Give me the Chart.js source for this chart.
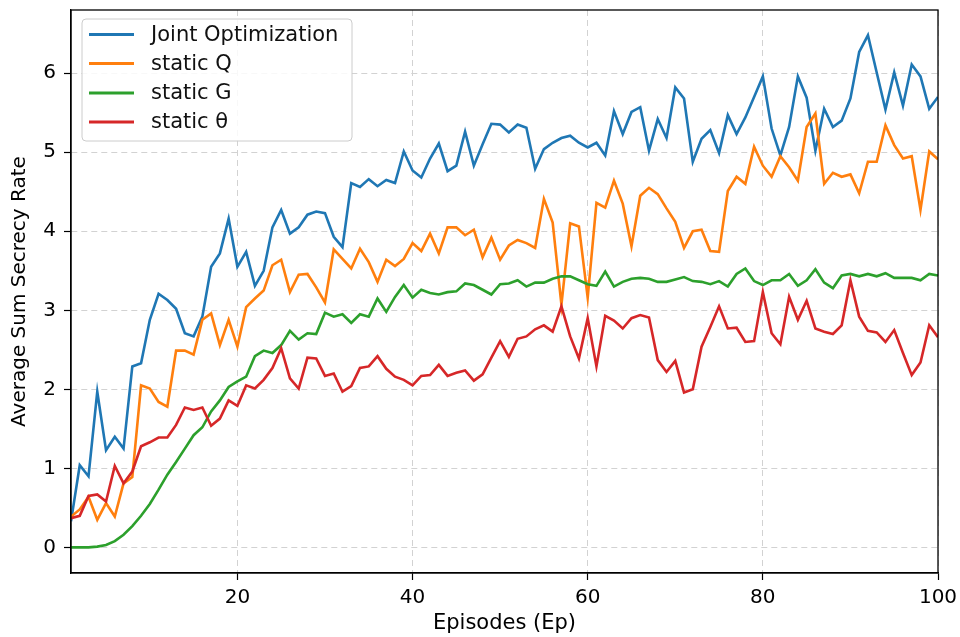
<!DOCTYPE html>
<html>
<head>
<meta charset="utf-8">
<script src="https://cdn.jsdelivr.net/npm/chart.js@4.4.1/dist/chart.umd.min.js"></script>
<style>
  html, body { margin: 0; padding: 0; background: #ffffff; }
  #wrap { width: 960px; height: 637px; position: relative; }
</style>
</head>
<body>
<div id="wrap"><canvas id="c" width="960" height="637"></canvas></div>
<script>
const episodes = Array.from({length: 100}, (_, i) => i + 1);
const xTicks = [20, 40, 60, 80, 100];
const yTicks = [0, 1, 2, 3, 4, 5, 6];
const seriesLabels = ["Joint Optimization", "static Q", "static G", "static \u03b8"];

const jointOptimization = [
  0.33, 1.04, 0.90, 1.97, 1.23, 1.40, 1.25, 2.29, 2.33, 2.88,
  3.21, 3.13, 3.02, 2.71, 2.67, 2.92, 3.55, 3.72, 4.16, 3.55,
  3.74, 3.31, 3.50, 4.05, 4.27, 3.97, 4.05, 4.21, 4.25, 4.23,
  3.93, 3.80, 4.61, 4.56, 4.66, 4.57, 4.65, 4.61, 5.01, 4.77,
  4.68, 4.92, 5.11, 4.76, 4.83, 5.26, 4.83, 5.10, 5.36, 5.35,
  5.25, 5.35, 5.31, 4.79, 5.04, 5.12, 5.18, 5.21, 5.12, 5.06,
  5.12, 4.96, 5.52, 5.23, 5.51, 5.57, 5.02, 5.42, 5.18, 5.82,
  5.68, 4.88, 5.17, 5.28, 4.99, 5.47, 5.23, 5.44, 5.70, 5.96,
  5.30, 4.96, 5.32, 5.96, 5.69, 5.02, 5.55, 5.32, 5.40, 5.68,
  6.27, 6.48, 6.01, 5.54, 6.01, 5.59, 6.11, 5.96, 5.55, 5.70
];
const staticQ = [
  0.39, 0.48, 0.64, 0.35, 0.56, 0.39, 0.81, 0.89, 2.05, 2.01,
  1.84, 1.78, 2.49, 2.49, 2.44, 2.88, 2.96, 2.56, 2.88, 2.54,
  3.04, 3.15, 3.25, 3.57, 3.64, 3.23, 3.45, 3.46, 3.29, 3.10,
  3.77, 3.65, 3.53, 3.78, 3.61, 3.36, 3.64, 3.56, 3.65, 3.85,
  3.75, 3.97, 3.72, 4.05, 4.05, 3.95, 4.02, 3.67, 3.92, 3.64,
  3.82, 3.89, 3.85, 3.79, 4.41, 4.11, 3.07, 4.10, 4.06, 3.16,
  4.36, 4.30, 4.64, 4.35, 3.81, 4.45, 4.55, 4.47, 4.29, 4.12,
  3.79, 4.00, 4.02, 3.75, 3.74, 4.51, 4.69, 4.60, 5.07, 4.83,
  4.69, 4.95, 4.81, 4.64, 5.32, 5.49, 4.60, 4.74, 4.69, 4.72,
  4.48, 4.88, 4.88, 5.34, 5.09, 4.92, 4.95, 4.27, 5.01, 4.91
];
const staticG = [
  0.00, 0.00, 0.00, 0.01, 0.03, 0.08, 0.16, 0.27, 0.40, 0.55,
  0.73, 0.92, 1.08, 1.25, 1.42, 1.52, 1.72, 1.86, 2.03, 2.10,
  2.16, 2.42, 2.49, 2.46, 2.56, 2.74, 2.63, 2.71, 2.70, 2.97,
  2.92, 2.95, 2.84, 2.95, 2.92, 3.15, 2.98, 3.17, 3.32, 3.16,
  3.26, 3.22, 3.20, 3.23, 3.24, 3.34, 3.32, 3.26, 3.20, 3.33,
  3.34, 3.38, 3.30, 3.35, 3.35, 3.40, 3.43, 3.43, 3.38, 3.33,
  3.31, 3.49, 3.30, 3.36, 3.40, 3.41, 3.40, 3.36, 3.36, 3.39,
  3.42, 3.37, 3.36, 3.33, 3.37, 3.30, 3.46, 3.53, 3.37, 3.32,
  3.38, 3.38, 3.46, 3.31, 3.38, 3.52, 3.35, 3.28, 3.44, 3.46,
  3.43, 3.46, 3.43, 3.47, 3.41, 3.41, 3.41, 3.38, 3.46, 3.44
];
const staticTheta = [
  0.37, 0.40, 0.65, 0.67, 0.58, 1.03, 0.81, 0.96, 1.28, 1.33,
  1.39, 1.39, 1.55, 1.77, 1.74, 1.77, 1.54, 1.63, 1.86, 1.79,
  2.05, 2.01, 2.12, 2.27, 2.52, 2.14, 2.01, 2.40, 2.39, 2.17,
  2.20, 1.97, 2.04, 2.27, 2.29, 2.42, 2.26, 2.16, 2.12, 2.05,
  2.17, 2.18, 2.31, 2.17, 2.21, 2.24, 2.11, 2.19, 2.40, 2.61,
  2.41, 2.64, 2.67, 2.76, 2.81, 2.73, 3.05, 2.67, 2.39, 2.90,
  2.29, 2.93, 2.87, 2.77, 2.90, 2.94, 2.91, 2.37, 2.22, 2.36,
  1.96, 2.00, 2.54, 2.79, 3.05, 2.77, 2.78, 2.60, 2.61, 3.23,
  2.71, 2.57, 3.17, 2.88, 3.12, 2.77, 2.73, 2.70, 2.81, 3.38,
  2.92, 2.74, 2.72, 2.60, 2.75, 2.46, 2.18, 2.34, 2.81, 2.66
];

const colors = ["#1f77b4", "#ff7f0e", "#2ca02c", "#d62728"];
const allSeries = [jointOptimization, staticQ, staticG, staticTheta];

const FONT = "'DejaVu Sans', 'Liberation Sans', sans-serif";

const datasets = allSeries.map((s, k) => ({
  label: seriesLabels[k],
  data: episodes.map((e, i) => ({x: e, y: s[i]})),
  borderColor: colors[k],
  backgroundColor: colors[k],
  borderWidth: 2.6,
  pointRadius: 0,
  tension: 0,
  fill: false,
  order: 4 - k
}));

const framePlugin = {
  id: 'frame',
  afterDraw(chart) {
    const {ctx, chartArea: a} = chart;
    ctx.save();
    ctx.strokeStyle = '#000';
    ctx.lineWidth = 1.3;
    ctx.strokeRect(a.left, a.top, a.right - a.left, a.bottom - a.top);
    ctx.restore();
    // legend
    ctx.save();
    const bx = 82, by = 19, bw = 270, bh = 122, r = 4;
    ctx.beginPath();
    ctx.moveTo(bx + r, by);
    ctx.lineTo(bx + bw - r, by);
    ctx.arcTo(bx + bw, by, bx + bw, by + r, r);
    ctx.lineTo(bx + bw, by + bh - r);
    ctx.arcTo(bx + bw, by + bh, bx + bw - r, by + bh, r);
    ctx.lineTo(bx + r, by + bh);
    ctx.arcTo(bx, by + bh, bx, by + bh - r, r);
    ctx.lineTo(bx, by + r);
    ctx.arcTo(bx, by, bx + r, by, r);
    ctx.closePath();
    ctx.fillStyle = 'rgba(255,255,255,0.85)';
    ctx.fill();
    ctx.strokeStyle = '#cccccc';
    ctx.lineWidth = 1;
    ctx.stroke();
    const rows = [34.5, 63.5, 93, 122];
    ctx.font = '21px ' + FONT;
    ctx.textBaseline = 'middle';
    ctx.textAlign = 'left';
    chart.data.datasets.forEach((ds, k) => {
      ctx.strokeStyle = ds.borderColor;
      ctx.lineWidth = 3;
      ctx.beginPath();
      ctx.moveTo(89, rows[k]);
      ctx.lineTo(134, rows[k]);
      ctx.stroke();
      ctx.fillStyle = '#111';
      ctx.fillText(ds.label, 151, rows[k] + 1);
    });
    ctx.restore();
  }
};

new Chart(document.getElementById('c'), {
  type: 'line',
  data: { datasets },
  plugins: [framePlugin],
  options: {
    responsive: false,
    animation: false,
    devicePixelRatio: 1,
    layout: { padding: { top: 10, right: 22, left: 0, bottom: 0 } },
    plugins: { legend: { display: false }, tooltip: { enabled: false } },
    scales: {
      x: {
        type: 'linear',
        min: 1,
        max: 100,
        afterBuildTicks(scale) { scale.ticks = xTicks.map(v => ({value: v})); },
        afterFit(scale) { scale.height = 64; scale.paddingLeft = 0; scale.paddingRight = 0; },
        ticks: { color: '#000', font: { family: FONT, size: 20 }, padding: 6, maxRotation: 0, autoSkip: false },
        grid: { color: '#d2d2d2', lineWidth: 1, drawTicks: true, tickLength: 7, tickColor: '#000', tickWidth: 1.2 },
        border: { display: true, color: '#000', width: 1.3, dash: [6, 4] },
        title: { display: true, text: 'Episodes (Ep)', color: '#000', font: { family: FONT, size: 21 }, padding: { top: 0, bottom: 1 } }
      },
      y: {
        type: 'linear',
        min: -0.324,
        max: 6.80,
        afterBuildTicks(scale) { scale.ticks = yTicks.map(v => ({value: v})); },
        afterFit(scale) { scale.width = 71; scale.paddingTop = 0; scale.paddingBottom = 0; },
        ticks: { color: '#000', font: { family: FONT, size: 20 }, padding: 8 },
        grid: { color: '#d2d2d2', lineWidth: 1, drawTicks: true, tickLength: 7, tickColor: '#000', tickWidth: 1.2 },
        border: { display: true, color: '#000', width: 1.3, dash: [6, 4] },
        title: { display: true, text: 'Average Sum Secrecy Rate', color: '#000', font: { family: FONT, size: 20 }, padding: { top: 8, bottom: 0 } }
      }
    }
  }
});
</script>
</body>
</html>
